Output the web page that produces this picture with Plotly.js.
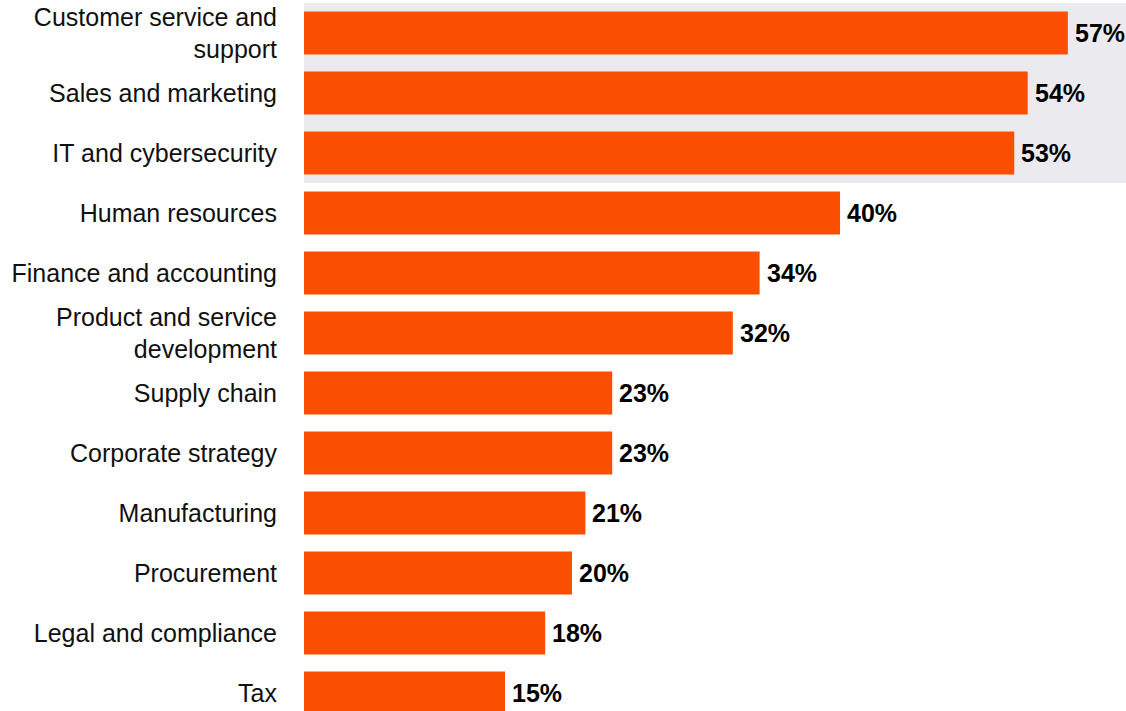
<!DOCTYPE html>
<html>
<head>
<meta charset="utf-8">
<script src="https://cdn.plot.ly/plotly-3.0.1.min.js"></script>
<style>html,body{margin:0;padding:0;background:#fff;}#chart{width:1126px;height:711px;}</style>
</head>
<body>
<div id="chart"></div>
<script>
const categories = [
  "Customer service and<br>support",
  "Sales and marketing",
  "IT and cybersecurity",
  "Human resources",
  "Finance and accounting",
  "Product and service<br>development",
  "Supply chain",
  "Corporate strategy",
  "Manufacturing",
  "Procurement",
  "Legal and compliance",
  "Tax"
];
const values = [57, 54, 53, 40, 34, 32, 23, 23, 21, 20, 18, 15];
const highlightedCount = 3;

const idx = categories.map((c, i) => i);

const trace = {
  type: 'bar',
  orientation: 'h',
  x: values,
  y: idx,
  width: 0.72,
  marker: {color: '#FA4E00', line: {width: 0}},
  hoverinfo: 'skip'
};

const annotations = values.map((v, i) => ({
  x: v, y: i, xref: 'x', yref: 'y',
  text: v + '%',
  showarrow: false,
  xanchor: 'left', yanchor: 'middle',
  xshift: 5,
  font: {family: 'Liberation Sans, Arial, sans-serif', size: 25, color: '#000', weight: 'bold'}
}));

const layout = {
  width: 1126,
  height: 711,
  margin: {l: 304, r: 0, t: 3, b: 0, pad: 0},
  paper_bgcolor: '#ffffff',
  plot_bgcolor: 'rgba(0,0,0,0)',
  showlegend: false,
  xaxis: {range: [0, 61.34], showgrid: false, zeroline: false, showticklabels: false, ticks: '', showline: false, fixedrange: true},
  yaxis: {
    range: [11.3, -0.5],
    tickmode: 'array',
    tickvals: idx,
    ticktext: categories,
    showgrid: false, zeroline: false, showline: false,
    ticks: 'outside', ticklen: 21, tickcolor: 'rgba(0,0,0,0)',
    tickfont: {family: 'Liberation Sans, Arial, sans-serif', size: 25, color: '#111'},
    fixedrange: true
  },
  annotations: annotations,
  shapes: [{
    type: 'rect', layer: 'below',
    xref: 'paper', yref: 'y',
    x0: 0, x1: 1,
    y0: -0.5, y1: highlightedCount - 0.5,
    fillcolor: '#EBEAEF', line: {width: 0}
  }]
};

Plotly.newPlot('chart', [trace], layout, {staticPlot: true, displayModeBar: false});
</script>
</body>
</html>
